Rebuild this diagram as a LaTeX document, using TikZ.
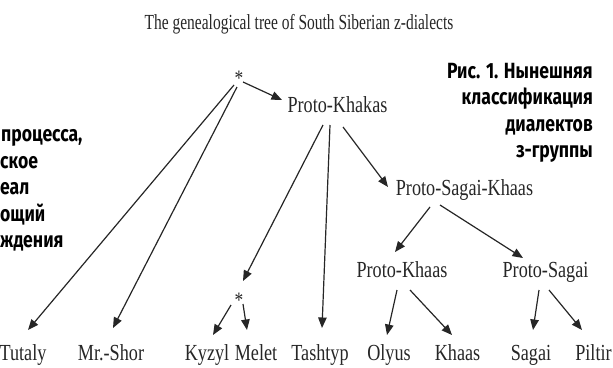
\documentclass[tikz,border=0pt]{standalone}
\usepackage{fontspec}
\usetikzlibrary{arrows.meta}
\newfontfamily\tms[FakeStretch=0.79]{Liberation Serif}
\newfontfamily\ttl[FakeStretch=0.72]{Liberation Serif}
\newfontfamily\rus[FakeStretch=0.8]{Fira Sans}
\definecolor{ink}{HTML}{262626}
\tikzset{
  lbl/.style={inner sep=0pt, anchor=base, text=ink, font=\tms\fontsize{23}{23}\selectfont},
  starnode/.style={inner sep=0pt, anchor=base, text=ink, font=\tms\fontsize{22}{22}\selectfont},
  ruline/.style={inner sep=0pt, font=\rus\bfseries\fontsize{22}{22}\selectfont},
  arr/.style={draw=ink, line width=1.2pt, -{Triangle[length=10.5pt,width=8.5pt]}}
}
\begin{document}
\begin{tikzpicture}[x=1pt,y=-1pt]
\useasboundingbox (0,0) rectangle (613,367);
% title
\node[inner sep=0pt, anchor=base, text=ink, font=\ttl\fontsize{21.5}{21.5}\selectfont] (title) at (299,29) {The genealogical tree of South Siberian z-dialects};
% tree nodes
\node[starnode] (s1) at (239,85) {*};
\node[lbl] (pk) at (337.5,112) {Proto-Khakas};
\node[lbl] (psk) at (464.5,195) {Proto-Sagai-Khaas};
\node[lbl] (pkh) at (402,277) {Proto-Khaas};
\node[lbl] (psg) at (545.5,277) {Proto-Sagai};
\node[starnode] (s2) at (239,307) {*};
\node[lbl] (tut) at (23,360) {Tutaly};
\node[lbl] (mrs) at (111,360) {Mr.-Shor};
\node[lbl] (kyz) at (207,360) {Kyzyl};
\node[lbl] (mel) at (256,360) {Melet};
\node[lbl] (tas) at (320,360) {Tashtyp};
\node[lbl] (oly) at (389,360) {Olyus};
\node[lbl] (kha) at (457.5,360) {Khaas};
\node[lbl] (sag) at (531,360) {Sagai};
\node[lbl] (pil) at (593.5,360) {Piltir};
% arrows
\draw[arr] ([shift={(4,-3)}]s1.base) -- ([shift={(-55.5,-12)}]pk.base);
\draw[arr] ([shift={(-5,0)}]s1.base) -- ([shift={(5,-30)}]tut.base);
\draw[arr] ([shift={(-2,2)}]s1.base) -- ([shift={(2,-32)}]mrs.base);
\draw[arr] ([shift={(-14.5,13)}]pk.base) -- ([shift={(4,-26)}]s2.base);
\draw[arr] ([shift={(-7.5,13)}]pk.base) -- ([shift={(2,-32)}]tas.base);
\draw[arr] ([shift={(5.5,15)}]pk.base) -- ([shift={(-76.5,-8)}]psk.base);
\draw[arr] ([shift={(-34.5,12)}]psk.base) -- ([shift={(-7,-25)}]pkh.base);
\draw[arr] ([shift={(-24.5,10)}]psk.base) -- ([shift={(-22.5,-19)}]psg.base);
\draw[arr] ([shift={(-8,-2)}]s2.base) -- ([shift={(6,-25)}]kyz.base);
\draw[arr] ([shift={(4,-3)}]s2.base) -- ([shift={(-9,-30)}]mel.base);
\draw[arr] ([shift={(-5,13)}]pkh.base) -- ([shift={(-2,-25)}]oly.base);
\draw[arr] ([shift={(8,13)}]pkh.base) -- ([shift={(-5.5,-25)}]kha.base);
\draw[arr] ([shift={(-6.5,13)}]psg.base) -- ([shift={(2,-30)}]sag.base);
\draw[arr] ([shift={(3.5,13)}]psg.base) -- ([shift={(-11.5,-30)}]pil.base);
% right caption
\node[ruline, anchor=base east] (r1) at (593,78) {Рис. 1. Нынешняя};
\node[ruline, anchor=base east] (r2) at (593,104.5) {классификация};
\node[ruline, anchor=base east] (r3) at (593,131) {диалектов};
\node[ruline, anchor=base east] (r4) at (593,157.5) {з-группы};
% left fragments
\node[ruline, anchor=base west] (l1) at (1,141.5) {процесса,};
\node[ruline, anchor=base west] (l2) at (0,168) {ское};
\node[ruline, anchor=base west] (l3) at (0,194.5) {еал};
\node[ruline, anchor=base west] (l4) at (0,221) {ощий};
\node[ruline, anchor=base west] (l5) at (0,247.5) {ждения};
\end{tikzpicture}
\end{document}
